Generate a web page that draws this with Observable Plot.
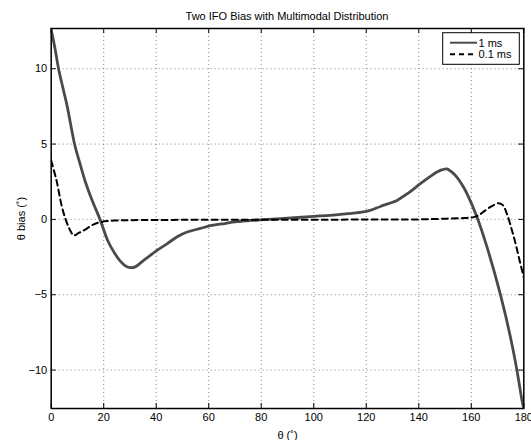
<!DOCTYPE html>
<html>
<head>
<meta charset="utf-8">
<script src="https://cdn.jsdelivr.net/npm/d3@7"></script>
<script src="https://cdn.jsdelivr.net/npm/@observablehq/plot@0.6"></script>
<style>
  html, body { margin: 0; padding: 0; background: white; }
  #chart { width: 531px; height: 440px; }
</style>
</head>
<body>
<div id="chart"></div>
<script>
// ---- data ----
const titleText = "Two IFO Bias with Multimodal Distribution";
const xLabel = "θ (˚)";
const yLabel = "θ bias (˚)";
const seriesNames = ["1 ms", "0.1 ms"];
const xTicks = [0, 20, 40, 60, 80, 100, 120, 140, 160, 180];
const yTicks = [-10, -5, 0, 5, 10];

// 1 ms (solid)
const theta1 = [0, 1.5, 2.8, 4.5, 6.1, 8.9, 10.8, 13, 15.5, 18.6, 21.5, 24, 26, 28, 30, 32, 35, 40.3, 44.2, 48, 51.8, 56.8, 60.6, 65, 70.8, 76, 80.9, 90, 100, 106.3, 113, 119, 121.5, 125.4, 128.5, 131.7, 136, 140.6, 144, 146.9, 149, 150.7, 152.5, 154.5, 156.5, 158.4, 162.2, 166, 171, 174.9, 177.4, 179.3, 180];
const bias1 = [12.6, 11.3, 10, 8.7, 7.5, 5, 3.8, 2.5, 1.3, 0, -1.4, -2.2, -2.7, -3.05, -3.2, -3.15, -2.75, -2.06, -1.61, -1.15, -0.84, -0.6, -0.42, -0.3, -0.15, -0.07, -0.02, 0.08, 0.2, 0.27, 0.38, 0.5, 0.6, 0.86, 1.05, 1.26, 1.75, 2.37, 2.8, 3.14, 3.3, 3.35, 3.15, 2.81, 2.3, 1.7, 0.15, -1.84, -4.93, -7.8, -10.02, -12.0, -12.55];

// 0.1 ms (dashed)
const theta2 = [0, 2, 4, 5.5, 7, 8.6, 10.5, 12.4, 16.2, 18.8, 24, 30, 50, 80, 100, 120, 140, 150.7, 157, 160.9, 163, 165, 167.5, 170.4, 172, 173.5, 175.5, 177, 178.5, 180];
const bias2 = [3.9, 2.6, 0.9, 0, -0.65, -1.06, -0.9, -0.73, -0.33, -0.18, -0.08, -0.05, -0.03, -0.02, -0.02, -0.01, 0, 0.05, 0.09, 0.15, 0.3, 0.55, 0.85, 1.08, 0.95, 0.4, -0.73, -1.7, -2.8, -3.85];

const s1 = theta1.map((t, i) => ({theta: t, bias: bias1[i]}));
const s2 = theta2.map((t, i) => ({theta: t, bias: bias2[i]}));

const W = 531, Hh = 440;
const mL = 50.7, mR = 7.7, mT = 28, mB = 32;
const innerW = W - mL - mR, innerH = Hh - mT - mB;
const font = "'Liberation Sans', Arial, Helvetica, sans-serif";

const chart = Plot.plot({
  width: W, height: Hh,
  marginLeft: mL, marginRight: mR, marginTop: mT, marginBottom: mB,
  style: {fontFamily: font, fontSize: "11px", color: "black", background: "white", overflow: "visible"},
  x: {domain: [0, 180]},
  y: {domain: [-12.55, 12.67]},
  marks: [
    Plot.gridX(xTicks, {stroke: "#666", strokeOpacity: 1, strokeWidth: 0.8, strokeDasharray: "1,3"}),
    Plot.gridY(yTicks, {stroke: "#666", strokeOpacity: 1, strokeWidth: 0.8, strokeDasharray: "1,3"}),
    Plot.line(s1, {x: "theta", y: "bias", stroke: "#4a4a4a", strokeWidth: 2.8, strokeLinejoin: "round", curve: "catmull-rom", clip: true}),
    Plot.line(s2, {x: "theta", y: "bias", stroke: "black", strokeWidth: 2, strokeDasharray: "6,4", curve: "catmull-rom", clip: true}),
    Plot.ruleX(xTicks, {stroke: "black", insetTop: innerH - 5}),
    Plot.ruleX(xTicks, {stroke: "black", insetBottom: innerH - 5}),
    Plot.ruleY(yTicks, {stroke: "black", insetRight: innerW - 5}),
    Plot.ruleY(yTicks, {stroke: "black", insetLeft: innerW - 5}),
    Plot.frame({stroke: "black", strokeWidth: 1.5}),
    Plot.axisX(xTicks, {tickSize: 0, tickPadding: 5, fill: "black", label: xLabel, labelAnchor: "center", labelArrow: "none", labelOffset: 30}),
    Plot.axisY(yTicks, {tickSize: 0, tickPadding: 4, fill: "black", label: yLabel, labelAnchor: "center", labelArrow: "none", labelOffset: 34})
  ]
});

document.getElementById("chart").appendChild(chart);

const svg = d3.select(chart);
// title
svg.append("text")
  .attr("x", mL + innerW / 2).attr("y", 19.5)
  .attr("text-anchor", "middle").attr("fill", "black")
  .attr("font-family", font).attr("font-size", 11)
  .text(titleText);

// legend
const lg = svg.append("g");
lg.append("rect")
  .attr("x", 442.7).attr("y", 32.7).attr("width", 76.6).attr("height", 31.6)
  .attr("fill", "white").attr("stroke", "black").attr("stroke-width", 1);
const rows = [
  {name: seriesNames[0], y: 42.7, stroke: "#4a4a4a", w: 2, dash: null},
  {name: seriesNames[1], y: 54.3, stroke: "black", w: 2, dash: "5,4"}
];
rows.forEach(r => {
  const l = lg.append("line")
    .attr("x1", 450).attr("x2", 477).attr("y1", r.y).attr("y2", r.y)
    .attr("stroke", r.stroke).attr("stroke-width", r.w);
  if (r.dash) l.attr("stroke-dasharray", r.dash);
  lg.append("text")
    .attr("x", 478.5).attr("y", r.y + 4)
    .attr("text-anchor", "start").attr("fill", "black")
    .attr("font-family", font).attr("font-size", 11)
    .text(r.name);
});
</script>
</body>
</html>
